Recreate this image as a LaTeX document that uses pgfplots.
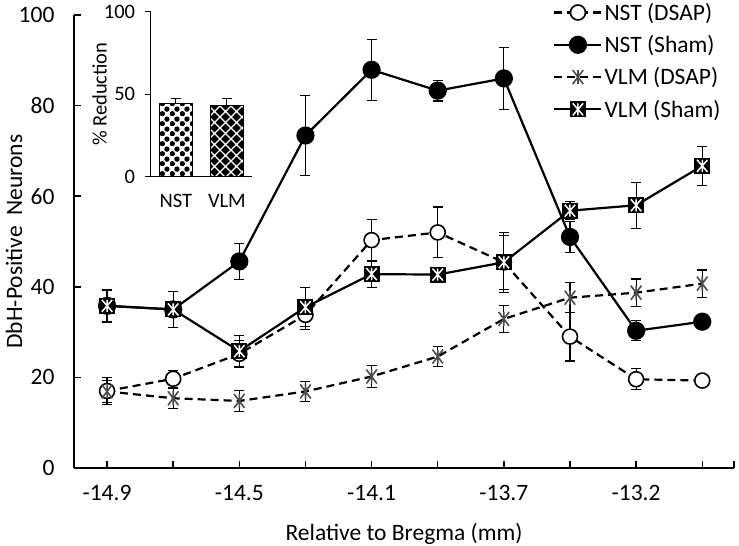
\documentclass[border=0pt]{standalone}
\usepackage{pgfplots}
\pgfplotsset{compat=1.18}
\usepackage{pgfplotstable}
\usepackage{fontspec}
\setmainfont{Carlito}
\usetikzlibrary{patterns}

\pgfdeclarepatternformonly{dotcheck}{\pgfpointorigin}{\pgfpoint{10pt}{10pt}}{\pgfpoint{10pt}{10pt}}{%
  \pgfpathcircle{\pgfpoint{2.5pt}{2.5pt}}{2.9pt}%
  \pgfpathcircle{\pgfpoint{7.5pt}{7.5pt}}{2.9pt}%
  \pgfusepath{fill}}
\pgfdeclarepatternformonly{diamx}{\pgfpoint{-1pt}{-1pt}}{\pgfpoint{12pt}{12pt}}{\pgfpoint{11pt}{11pt}}{%
  \pgfsetlinewidth{1.1pt}%
  \pgfpathmoveto{\pgfpoint{0pt}{0pt}}\pgfpathlineto{\pgfpoint{11pt}{11pt}}%
  \pgfpathmoveto{\pgfpoint{0pt}{11pt}}\pgfpathlineto{\pgfpoint{11pt}{0pt}}%
  \pgfusepath{stroke}}

\pgfdeclareplotmark{xstar}{%
  \pgfpathmoveto{\pgfqpoint{-0.75\pgfplotmarksize}{-\pgfplotmarksize}}%
  \pgfpathlineto{\pgfqpoint{0.75\pgfplotmarksize}{\pgfplotmarksize}}%
  \pgfpathmoveto{\pgfqpoint{-0.75\pgfplotmarksize}{\pgfplotmarksize}}%
  \pgfpathlineto{\pgfqpoint{0.75\pgfplotmarksize}{-\pgfplotmarksize}}%
  \pgfpathmoveto{\pgfqpoint{0pt}{-\pgfplotmarksize}}%
  \pgfpathlineto{\pgfqpoint{0pt}{\pgfplotmarksize}}%
  \pgfusepathqstroke}
\pgfdeclareplotmark{sqx}{%
  \pgfpathrectangle{\pgfqpoint{-\pgfplotmarksize}{-\pgfplotmarksize}}{\pgfqpoint{2\pgfplotmarksize}{2\pgfplotmarksize}}%
  \pgfsetfillcolor{black}\pgfusepathqfill
  \pgfsetstrokecolor{white}\pgfsetlinewidth{1.5pt}%
  \pgfpathmoveto{\pgfqpoint{-0.65\pgfplotmarksize}{-0.75\pgfplotmarksize}}%
  \pgfpathlineto{\pgfqpoint{0.65\pgfplotmarksize}{0.75\pgfplotmarksize}}%
  \pgfpathmoveto{\pgfqpoint{-0.65\pgfplotmarksize}{0.75\pgfplotmarksize}}%
  \pgfpathlineto{\pgfqpoint{0.65\pgfplotmarksize}{-0.75\pgfplotmarksize}}%
  \pgfpathmoveto{\pgfqpoint{0pt}{-0.75\pgfplotmarksize}}%
  \pgfpathlineto{\pgfqpoint{0pt}{0.75\pgfplotmarksize}}%
  \pgfusepathqstroke}

\pgfplotstableread{
x nd ndE ns nsE vd vdE vs vsE
0 17.0 2.9 35.8 3.5 16.9 2.5 35.8 3.6
1 19.7 1.9 35.0 4.0 15.4 2.2 35.0 4.0
2 25.2 3.0 45.6 4.0 14.8 2.3 25.8 3.4
3 33.8 3.2 73.4 8.9 16.9 2.2 35.5 4.3
4 50.3 4.5 87.9 6.7 20.2 2.4 42.8 2.9
5 52.0 5.6 83.3 2.3 24.6 2.2 42.7 1.5
6 45.4 6.0 86.0 6.8 32.9 3.0 45.4 6.6
7 29.0 5.4 51.0 3.4 37.6 3.3 56.8 2.0
8 19.6 2.3 30.3 2.2 38.7 3.0 58.0 5.1
9 19.3 1.0 32.3 1.5 40.7 3.0 66.7 4.3
}\datatab

\pgfplotsset{eb/.style={error bars/.cd, y dir=both, y explicit,
  error bar style={line width=1.2pt, solid, draw=black},
  error mark options={rotate=90, mark size=5pt, line width=1.2pt, solid, draw=black}}}

\newcommand\bigf{\fontsize{23.5}{28}\selectfont}
\newcommand\smallf{\fontsize{20.5}{24}\selectfont}

\begin{document}
\begin{tikzpicture}
\begin{axis}[name=main, scale only axis, width=660pt, height=453pt,
  xmin=-0.5, xmax=9.48, ymin=0, ymax=100,
  axis lines*=left,
  axis line style={line width=1.8pt, black},
  tick align=inside, major tick length=7pt,
  tick style={line width=1.5pt, black},
  xtick={0,...,9}, xticklabels={-14.9,,-14.5,,-14.1,,-13.7,,-13.2,},
  extra x ticks={9.48}, extra x tick labels={},
  ytick={0,20,...,100},
  /pgf/number format/assume math mode=true,
  ticklabel style={font=\bigf},
  xticklabel style={yshift=-14pt},
  yticklabel style={xshift=-16pt},
  xlabel={Relative to Bregma (mm)}, ylabel={DbH-Positive~~Neurons},
  label style={font=\bigf},
  xlabel style={at={(axis description cs:0.5,-0.146)}, anchor=center},
  ylabel style={at={(axis description cs:-0.091,0.5)}, anchor=center},
  legend cell align=left,
  legend style={draw=none, fill=none, at={(axis description cs:0.726,1.031)}, anchor=north west,
    inner sep=0pt, row sep=9.6pt, column sep=0pt, font=\bigf, nodes={inner sep=2pt}},
  legend image code/.code={\draw[mark repeat=2, mark phase=2, #1] plot coordinates {(0pt,0pt) (23.5pt,0pt) (47pt,0pt)};},
]
\addplot[black, line width=2.2pt, dash pattern=on 8pt off 5pt, mark=*, mark size=7.5pt,
  mark options={solid, fill=white, draw=black, line width=1.6pt}, eb]
  table[x=x, y=nd, y error=ndE] {\datatab};
\addlegendentry{NST (DSAP)}
\addplot[black, line width=2.2pt, mark=*, mark size=8pt,
  mark options={solid, fill=black, draw=black}, eb]
  table[x=x, y=ns, y error=nsE] {\datatab};
\addlegendentry{NST (Sham)}
\addplot[black, line width=2.2pt, dash pattern=on 8pt off 5pt, mark=xstar, mark size=7pt,
  mark options={solid, draw=black!70, line width=1.6pt}, eb]
  table[x=x, y=vd, y error=vdE] {\datatab};
\addlegendentry{VLM (DSAP)}
\addplot[black, line width=2.2pt, mark=sqx, mark size=8pt,
  mark options={solid}, eb]
  table[x=x, y=vs, y error=vsE] {\datatab};
\addlegendentry{VLM (Sham)}
\coordinate (ins) at (axis cs:0.658,64.3);
\end{axis}

\begin{axis}[at={(ins)}, anchor=south west, scale only axis, width=101pt, height=165pt,
  xmin=-0.496, xmax=1.484, ymin=0, ymax=100,
  axis lines*=left,
  axis line style={line width=1.5pt, black},
  xtick={0,1}, xticklabels={NST,VLM}, ytick={0,50,100},
  major x tick style={draw=none},
  tick align=outside, major tick length=6pt, tick style={line width=1.3pt, black},
  /pgf/number format/assume math mode=true,
  ticklabel style={font=\smallf},
  xticklabel style={yshift=-8pt},
  yticklabel style={xshift=-6pt},
  ylabel={\% Reduction}, label style={font=\smallf},
  ylabel style={at={(axis description cs:-0.505,0.5)}, anchor=center},
]
\addplot[ybar, bar width=33.5pt, bar shift=0pt, draw=black, line width=1pt, fill=white,
  postaction={pattern=dotcheck, pattern color=black}] coordinates {(0,44.1)};
\addplot[ybar, bar width=33.5pt, bar shift=0pt, draw=black, line width=1pt, fill=black,
  postaction={pattern=diamx, pattern color=white}] coordinates {(1,43.3)};
\addplot[draw=none, mark=none, error bars/.cd, y dir=plus, y explicit,
  error bar style={line width=1.2pt, draw=black},
  error mark options={rotate=90, mark size=5pt, line width=1.2pt, draw=black}]
  coordinates {(0,44.1) +- (0,3.4) (1,43.3) +- (0,4.2)};
\end{axis}

\pgfresetboundingbox
\path[use as bounding box] (main.south west) ++(-74pt,-78pt) rectangle ++(739pt,546pt);
\end{tikzpicture}
\end{document}
